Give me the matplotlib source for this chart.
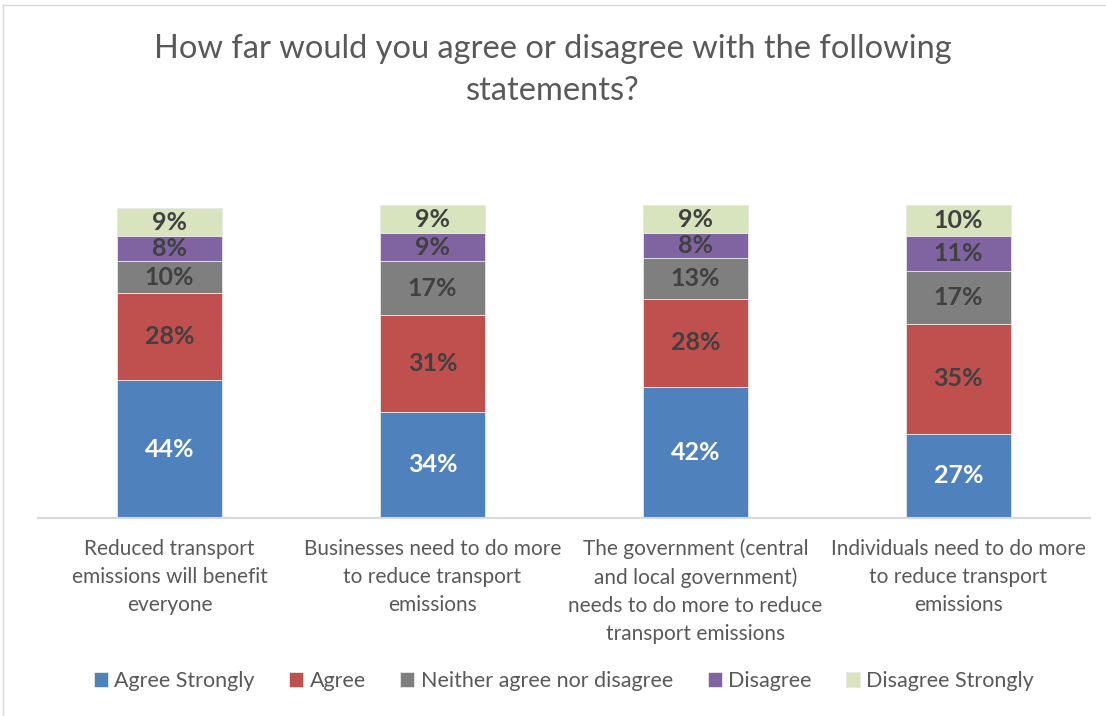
import numpy as np
import matplotlib.pyplot as plt
from matplotlib.lines import Line2D

plt.rcParams['font.family'] = ['Lato', 'DejaVu Sans']

statements = ['Reduced transport\nemissions will benefit\neveryone',
              'Businesses need to do more\nto reduce transport\nemissions',
              'The government (central\nand local government)\nneeds to do more to reduce\ntransport emissions',
              'Individuals need to do more\nto reduce transport\nemissions']
responses = ['Agree Strongly', 'Agree', 'Neither agree nor disagree', 'Disagree', 'Disagree Strongly']
agree_strongly = [44, 34, 42, 27]
agree = [28, 31, 28, 35]
neither = [10, 17, 13, 17]
disagree = [8, 9, 8, 11]
disagree_strongly = [9, 9, 9, 10]

colors = ['#4F81BD', '#C0504D', '#7F7F7F', '#8064A2', '#D7E4BD']
label_colors = ['white', '#404040', '#404040', '#404040', '#404040']

fig = plt.figure(figsize=(11.06, 7.16), dpi=100)
ax = fig.add_axes([0.0344, 0.2765, 0.951, 0.4414])

x = np.arange(len(statements))
bottom = np.zeros(len(statements))
series = [agree_strongly, agree, neither, disagree, disagree_strongly]
for name, vals, col, lc in zip(responses, series, colors, label_colors):
    vals = np.array(vals)
    ax.bar(x, vals, 0.4, bottom=bottom, color=col, label=name,
           edgecolor='#e8e8e8', linewidth=0.6)
    for xi, b, v in zip(x, bottom, vals):
        ax.text(xi, b + v / 2, f'{v}%', ha='center', va='center',
                fontsize=18, fontweight='bold', color=lc)
    bottom += vals

ax.set_xlim(-0.5, len(statements) - 0.5)
ax.set_ylim(0, 101)
ax.set_yticks([])
ax.set_xticks(x)
ax.set_xticklabels(statements, fontsize=15, color='#595959', linespacing=1.5)
ax.tick_params(axis='x', length=0, pad=15)
for s in ['top', 'right', 'left']:
    ax.spines[s].set_visible(False)
ax.spines['bottom'].set_color('#d9d9d9')
ax.spines['bottom'].set_linewidth(1.5)

fig.text(0.5, 0.902, 'How far would you agree or disagree with the following\nstatements?',
         ha='center', va='center', fontsize=23.5, color='#595959',
         linespacing=1.5)

fig.legend(loc='center', bbox_to_anchor=(0.51, 0.049), ncol=5, frameon=False,
           fontsize=15.5, handlelength=0.65, handleheight=0.65, handletextpad=0.3,
           columnspacing=1.6, labelcolor='#595959')

# thin frame lines along the left and top edge
fig.add_artist(Line2D([3 / 1106, 3 / 1106], [0, 1 - 5 / 716], transform=fig.transFigure,
                      color='#d9d9d9', lw=1))
fig.add_artist(Line2D([3 / 1106, 1], [1 - 5 / 716, 1 - 5 / 716], transform=fig.transFigure,
                      color='#d9d9d9', lw=1))

fig.savefig('out.png', dpi=100)
